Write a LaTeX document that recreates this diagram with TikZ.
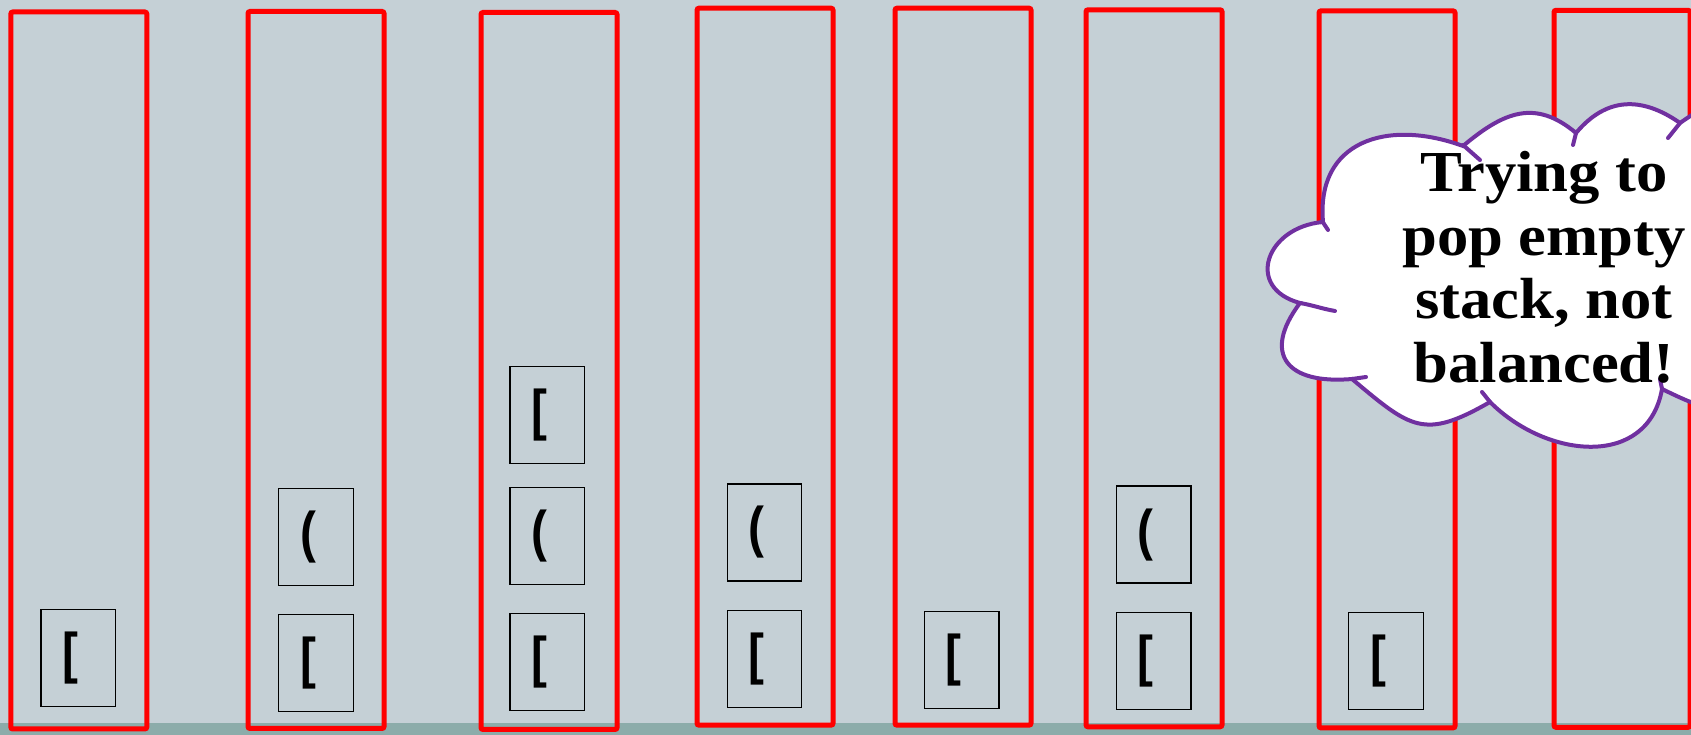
\documentclass[tikz,border=0pt]{standalone}
\usepackage{fontspec}
\newfontfamily\bracketfont{Liberation Sans}[FakeStretch=0.85]
\newfontfamily\cloudfont{Liberation Serif}[FakeStretch=1.08]
\definecolor{slate}{HTML}{C5D0D6}
\definecolor{floorteal}{HTML}{8CACAA}
\definecolor{thinkpurple}{HTML}{7030A0}

\begin{document}
\begin{tikzpicture}[x=1pt, y=1pt,
  stackbox/.style={draw=red, line width=5pt, rounded corners=2pt, minimum width=136pt, minimum height=717pt, inner sep=0pt},
  item/.style={draw=black, line width=1.4pt, minimum width=74.5pt, minimum height=97pt, inner sep=0pt,
    font=\bracketfont\bfseries\fontsize{56}{60}\selectfont,
    execute at begin node=\kern-8pt, execute at end node=\kern8pt},
  cloudline/.style={draw=thinkpurple, line width=4pt, line cap=round}]
  \useasboundingbox[fill=slate] (0,0) rectangle (1691,735);
  \fill[floorteal] (0,0) rectangle (1691,12.3);

  % Stack 1
  \node[stackbox] (s1) at (78.8,364.5) {};
  \node[item] (s1a) at (78.2,77.1) {[};

  % Stack 2
  \node[stackbox] (s2) at (316,365) {};
  \node[item] (s2a) at (316,72.1) {[};
  \node[item] (s2b) at (316,198) {(};

  % Stack 3
  \node[stackbox] (s3) at (549,364) {};
  \node[item] (s3a) at (547.3,72.8) {[};
  \node[item] (s3b) at (547.3,199) {(};
  \node[item] (s3c) at (547.3,319.8) {[};

  % Stack 4
  \node[stackbox] (s4) at (765,368.3) {};
  \node[item] (s4a) at (764.5,76.2) {[};
  \node[item] (s4b) at (764.5,202.5) {(};

  % Stack 5
  \node[stackbox] (s5) at (963,368.3) {};
  \node[item] (s5a) at (961.8,75) {[};

  % Stack 6
  \node[stackbox] (s6) at (1154,366.7) {};
  \node[item] (s6a) at (1153.8,74) {[};
  \node[item] (s6b) at (1153.8,200.3) {(};

  % Stack 7
  \node[stackbox] (s7) at (1387,365.6) {};
  \node[item] (s7a) at (1386,74.2) {[};

  % Stack 8
  \node[stackbox] (s8) at (1622,366.2) {};

  % Thought cloud
  \filldraw[cloudline, fill=white]
    (1352,356) to[out=185, in=233, looseness=1.8] (1300,432)
    to[out=165, in=185, looseness=1.75] (1323,513)
    to[out=95, in=160, looseness=1.3] (1463,589)
    to[out=40, in=140, looseness=1.2] (1576,602)
    to[out=50, in=145, looseness=1.15] (1680,612)
    to[out=35, in=180] (1760,640) -- (1760,330)
    to[out=200, in=334] (1662,346)
    to[out=260, in=315, looseness=1.2] (1490,333)
    to[out=210, in=320, looseness=1.4] (1352,356) -- cycle;
  \draw[cloudline] (1352,356) -- (1366,358);
  \draw[cloudline] (1300,432) to[out=-10, in=170] (1335,424);
  \draw[cloudline] (1322,514) -- (1328,505);
  \draw[cloudline] (1463,590) -- (1480,575);
  \draw[cloudline] (1576,602) -- (1573,590);
  \draw[cloudline] (1680,612) -- (1668,597);
  \draw[cloudline] (1662,346) -- (1660,356);
  \draw[cloudline] (1490,333) -- (1482,343);
  \node[font=\cloudfont\bfseries\fontsize{58}{63.7}\selectfont, align=center, inner sep=0pt] (msg) at (1544,467.8) {Trying to\\pop empty\\stack, not\\balanced!};
\end{tikzpicture}
\end{document}
